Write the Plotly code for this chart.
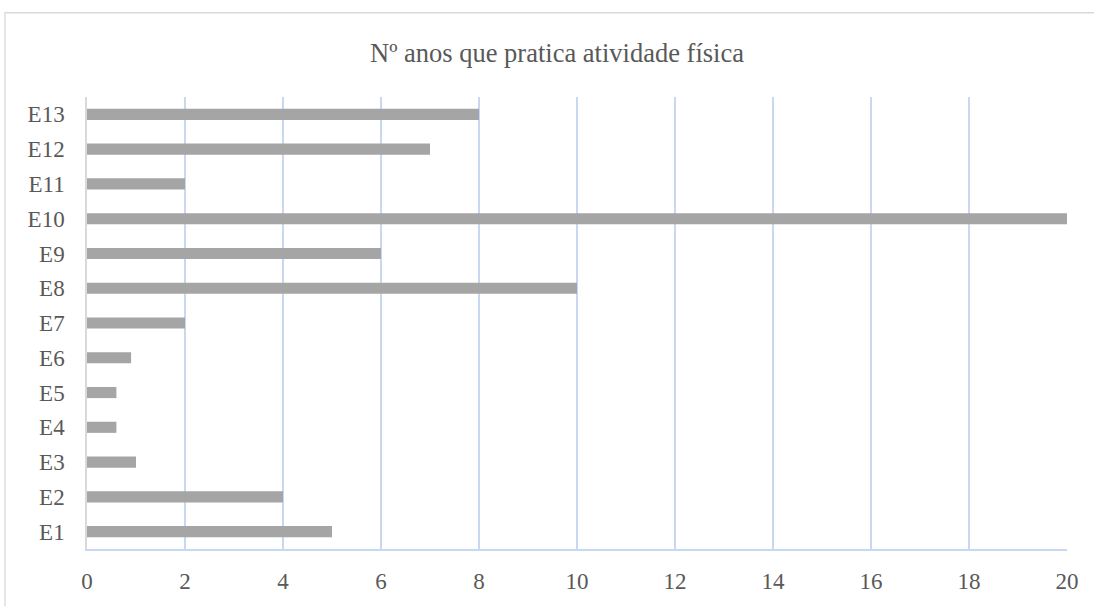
import plotly.graph_objects as go

# Years of physical activity per participant
participants = ["E1", "E2", "E3", "E4", "E5", "E6", "E7",
                "E8", "E9", "E10", "E11", "E12", "E13"]
years = [5, 4, 1, 0.6, 0.6, 0.9, 2, 10, 6, 20, 2, 7, 8]
x_ticks = [0, 2, 4, 6, 8, 10, 12, 14, 16, 18, 20]

W, H = 1094, 606
L, R, T, B = 87, 27, 97, 53
pw, ph = W - L - R, H - T - B

FONT = "Liberation Serif"
TXT = "#595959"
GRID = "#c8d8f1"

fig = go.Figure(
    go.Bar(
        x=years,
        y=participants,
        orientation="h",
        marker=dict(color="#a5a5a5", line=dict(width=0)),
        width=0.32,
    )
)

fig.update_layout(
    width=W,
    height=H,
    margin=dict(l=L, r=R, t=T, b=B),
    paper_bgcolor="white",
    plot_bgcolor="white",
    showlegend=False,
    font=dict(family=FONT, color=TXT, size=23),
    title=dict(
        text="Nº anos que pratica atividade física",
        x=(557 - L) / pw,
        xref="paper",
        xanchor="center",
        y=1 - 53 / H,
        yanchor="middle",
        font=dict(family=FONT, color=TXT, size=26.5),
    ),
    xaxis=dict(
        range=[0, 20],
        tickvals=x_ticks,
        showgrid=True,
        gridcolor=GRID,
        gridwidth=1.5,
        zeroline=False,
        showline=True,
        linecolor=GRID,
        linewidth=1.5,
        ticks="",
        ticklabelstandoff=11,
        tickfont=dict(family=FONT, color=TXT, size=23),
    ),
    yaxis=dict(
        categoryorder="array",
        categoryarray=participants,
        range=[-0.5, 12.5],
        showgrid=False,
        zeroline=False,
        showline=True,
        linecolor="#d9d9d9",
        linewidth=1.5,
        ticks="",
        ticklabelstandoff=16,
        tickfont=dict(family=FONT, color=TXT, size=23),
    ),
    shapes=[
        # outer chart frame
        dict(
            type="rect",
            xref="paper",
            yref="paper",
            x0=(5 - L) / pw,
            x1=(W + 20 - L) / pw,
            y0=-(B + 20) / ph,
            y1=(H - B - 12) / ph,
            line=dict(color="#d9d9d9", width=1.3),
            fillcolor="rgba(0,0,0,0)",
            layer="below",
        )
    ],
)

fig.write_html("out.html")
